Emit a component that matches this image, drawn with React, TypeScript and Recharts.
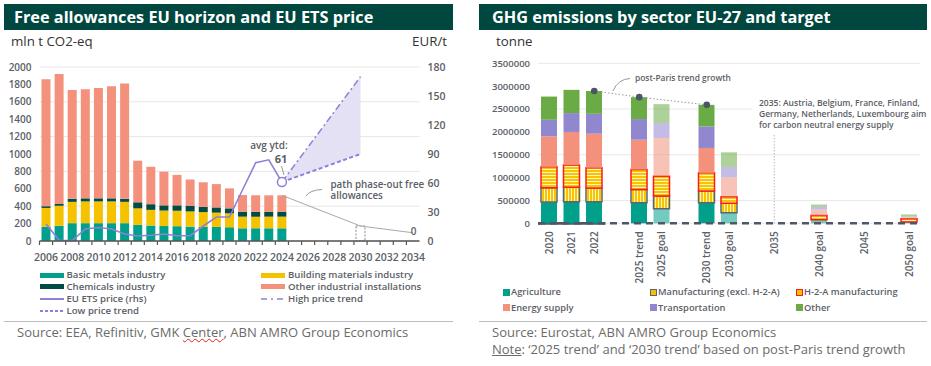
import React from 'react';
import {
  ComposedChart,
  Bar,
  Line,
  Area,
  XAxis,
  YAxis,
  CartesianGrid,
  ReferenceDot,
  ReferenceLine,
  ReferenceArea,
  Cell,
} from 'recharts';

const FONT = '"Open Sans", "Noto Sans", sans-serif';
const TICK = '#5b6066';
const BANNER = '#00473f';

// ---- left chart: free allowances (mln t CO2-eq) and ETS price (EUR/t)
const years = [
  '2006', '2007', '2008', '2009', '2010', '2011', '2012', '2013', '2014', '2015',
  '2016', '2017', '2018', '2019', '2020', '2021', '2022', '2023', '2024', '2025',
  '2026', '2027', '2028', '2029', '2030', '2031', '2032', '2033', '2034',
];
const basicMetals = [165, 175, 205, 205, 205, 205, 205, 185, 178, 172, 170, 165, 162, 162, 158, 146, 146, 146, 146];
const buildingMaterials = [215, 230, 245, 250, 250, 250, 245, 190, 180, 178, 178, 175, 170, 164, 160, 134, 134, 134, 134];
const chemicals = [20, 20, 35, 35, 35, 35, 35, 70, 65, 60, 62, 62, 60, 60, 57, 57, 57, 55, 55];
const otherInstallations = [1460, 1495, 1250, 1255, 1270, 1290, 1325, 478, 430, 387, 350, 305, 283, 268, 230, 192, 190, 190, 190];
const etsPrice = [17.6, 0.8, 0.4, 12.5, 14, 12.5, 7.2, 5.2, 6, 7.2, 5.5, 5.5, 15.5, 24.8, 24.8, 53, 81, 84, 61];

const trendYears = ['2024', '2030'];
const highTrend = [61, 170];
const lowTrend = [61, 90];

const phaseOutYears = ['2024', '2030', '2034'];
const phaseOut = [525, 172, 95];
const phaseBoxYear = '2030';
const phaseBoxValue = 172;

const leftTicks = [0, 200, 400, 600, 800, 1000, 1200, 1400, 1600, 1800, 2000];
const rightTicks = [0, 30, 60, 90, 120, 150, 180];

const leftData = years.map((year, i) => {
  const t = trendYears.indexOf(year);
  const p = phaseOutYears.indexOf(year);
  return {
    year,
    basic: basicMetals[i] ?? null,
    building: buildingMaterials[i] ?? null,
    chemicals: chemicals[i] ?? null,
    other: otherInstallations[i] ?? null,
    price: etsPrice[i] ?? null,
    high: t >= 0 ? highTrend[t] : null,
    low: t >= 0 ? lowTrend[t] : null,
    band: t >= 0 ? [lowTrend[t], highTrend[t]] : null,
    phase: p >= 0 ? phaseOut[p] : null,
    box: year === phaseBoxYear ? phaseBoxValue : null,
  };
});

// ---- right chart: GHG emissions by sector (tonne)
const periods = [
  '2020', '2021', '2022', '', '2025 trend', '2025 goal', '', '2030 trend', '2030 goal',
  '', '2035', '', '2040 goal', '', '2045', '', '2050 goal',
];
const agriculture = [464000, 470000, 470000, null, 450000, 320000, null, 450000, 233000, null, null, null, 80000, null, null, null, 30000];
const manufacturing = [313000, 320000, 300000, null, 290000, 275000, null, 254000, 203000, null, null, null, null, null, null, null, null];
const h2a = [458000, 488000, 445000, null, 436000, 435000, null, 400000, 145000, null, null, null, 90000, null, null, null, 70000];
const energySupply = [666000, 720000, 745000, null, 653000, 836000, null, 544000, 427000, null, null, null, 131000, null, null, null, 30000];
const transportation = [364000, 413000, 435000, null, 451000, 327000, null, 471000, 227000, null, null, null, 59000, null, null, null, 18000];
const otherSectors = [507000, 508000, 500000, null, 479000, 414000, null, 472000, 318000, null, null, null, 50000, null, null, null, 46000];
const trendPeriods = ['2022', '2025 trend', '2030 trend'];
const trendTotals = [2895000, 2759000, 2591000];
const ghgTicks = [0, 500000, 1000000, 1500000, 2000000, 2500000, 3000000, 3500000];

const ghgData = periods.map((label, i) => {
  const t = trendPeriods.indexOf(label);
  return {
    key: label || `gap${i}`,
    label,
    agriculture: agriculture[i],
    manufacturing: manufacturing[i],
    h2a: h2a[i],
    energy: energySupply[i],
    transport: transportation[i],
    other: otherSectors[i],
    trend: t >= 0 ? trendTotals[t] : null,
  };
});

const C = {
  teal: '#00a08c',
  yellow: '#f5c200',
  dark: '#004b44',
  salmon: '#f3917c',
  purple: '#8e80d8',
  lavender: '#e5e1f5',
  green: '#6aab45',
  transport: '#9187cf',
};

// chart frame sizes (px)
const L_H = 220;
const L_XH = 29;
const L_AXIS_Y = L_H - L_XH;
const R_H = 238;
const R_XH = 64.7;
const R_AXIS_Y = R_H - R_XH;

const YearTick = (props: any) => {
  const { x, payload } = props;
  const off = payload?.offset ?? 6.5;
  const show = Number(payload.value) % 2 === 0;
  return (
    <g>
      <line x1={x - off} x2={x - off} y1={L_AXIS_Y} y2={L_AXIS_Y + 4} stroke="#555" strokeWidth={1.2} />
      {show && (
        <text x={x} y={L_AXIS_Y + 20} textAnchor="middle" fill={TICK} fontSize={10.5} fontWeight={600} fontFamily={FONT}>
          {payload.value}
        </text>
      )}
    </g>
  );
};

const PeriodTick = (props: any) => {
  const { x, payload } = props;
  const y = R_AXIS_Y + 8;
  const text = String(payload.value).startsWith('gap') ? '' : payload.value;
  if (!text) return null;
  return (
    <text
      x={x}
      y={y}
      dy="0.35em"
      transform={`rotate(-90, ${x}, ${y})`}
      textAnchor="end"
      fill={TICK}
      fontSize={10}
      fontWeight={600}
      fontFamily={FONT}
    >
      {text}
    </text>
  );
};

const LineSwatch = ({ dash, width = 2 }: { dash?: string; width?: number }) => (
  <svg width={24} height={6} style={{ position: 'absolute', left: 0, top: -3 }}>
    <line x1={0} x2={24} y1={3} y2={3} stroke={C.purple} strokeWidth={width} strokeDasharray={dash} />
  </svg>
);

const legendText: React.CSSProperties = {
  position: 'absolute',
  fontSize: 9.6,
  fontWeight: 600,
  color: '#5b6066',
  whiteSpace: 'nowrap',
  lineHeight: '12px',
};

function LeftLegendItem({ x, y, label, swatch }: { x: number; y: number; label: string; swatch: React.ReactNode }) {
  return (
    <>
      <div style={{ position: 'absolute', left: x, top: y, width: 24 }}>{swatch}</div>
      <div style={{ ...legendText, left: x + 27, top: y - 6 }}>{label}</div>
    </>
  );
}

function RightLegendItem({ x, y, label, color, border }: { x: number; y: number; label: string; color: string; border?: string }) {
  return (
    <>
      <div
        style={{
          position: 'absolute',
          left: x,
          top: y - 3.5,
          width: border ? 5 : 7,
          height: border ? 5 : 7,
          background: color,
          border: border ? `1.5px solid ${border}` : undefined,
        }}
      />
      <div style={{ ...legendText, fontSize: 9.3, left: x + 8, top: y - 6 }}>{label}</div>
    </>
  );
}

const bar = (color: string, h = 5) => (
  <div style={{ position: 'absolute', left: 0, top: -h / 2, width: 24, height: h, background: color }} />
);

export default function App() {
  const isGoal = (label: string) => label.includes('goal');
  return (
    <div
      style={{
        position: 'absolute',
        left: 0,
        top: 0,
        width: 931,
        height: 366,
        background: '#fff',
        fontFamily: FONT,
        overflow: 'hidden',
      }}
    >
      {/* ---------- left panel ---------- */}
      <div
        style={{
          position: 'absolute', left: 4, top: 4, width: 449, height: 26, background: BANNER,
          color: '#fff', fontWeight: 700, fontSize: 16.3, lineHeight: '26px', paddingLeft: 10, boxSizing: 'border-box',
          whiteSpace: 'nowrap',
        }}
      >
        Free allowances EU horizon and EU ETS price
      </div>
      <div style={{ position: 'absolute', left: 11, top: 33, fontSize: 13.3, color: '#333', lineHeight: '17px' }}>mln t CO2-eq</div>
      <div style={{ position: 'absolute', left: 380, width: 67, top: 33, fontSize: 13.3, color: '#333', lineHeight: '17px', textAlign: 'right' }}>EUR/t</div>

      <div style={{ position: 'absolute', left: 0, top: 50 }}>
        <ComposedChart width={460} height={L_H} data={leftData} margin={{ top: 17, right: 0, left: 0, bottom: 0 }}>
          <CartesianGrid yAxisId="left" vertical={false} stroke="#e6e6e6" />
          <XAxis
            dataKey="year"
            interval={0}
            tickSize={0}
            tickMargin={0}
            tickLine={false}
            height={L_XH}
            axisLine={{ stroke: '#555', strokeWidth: 1.5 }}
            tick={(p: any) => <YearTick {...p} />}
          />
          <YAxis
            yAxisId="left"
            width={39.5}
            domain={[0, 2000]}
            ticks={leftTicks}
            axisLine={false}
            tickLine={false}
            tick={{ fill: TICK, fontSize: 10, fontWeight: 600, fontFamily: FONT }}
          />
          <YAxis
            yAxisId="right"
            orientation="right"
            width={40.5}
            domain={[0, 180]}
            ticks={rightTicks}
            axisLine={false}
            tickLine={false}
            tick={{ fill: TICK, fontSize: 10.5, fontWeight: 600, fontFamily: FONT }}
          />
          <Bar yAxisId="left" dataKey="basic" stackId="a" fill={C.teal} barSize={9} isAnimationActive={false} />
          <Bar yAxisId="left" dataKey="building" stackId="a" fill={C.yellow} barSize={9} isAnimationActive={false} />
          <Bar yAxisId="left" dataKey="chemicals" stackId="a" fill={C.dark} barSize={9} isAnimationActive={false} />
          <Bar yAxisId="left" dataKey="other" stackId="a" fill={C.salmon} barSize={9} isAnimationActive={false} />
          <Bar
            yAxisId="left"
            dataKey="box"
            stackId="a"
            fill="none"
            stroke="#888"
            strokeDasharray="2 1.5"
            barSize={9}
            isAnimationActive={false}
          />
          <Area
            yAxisId="right"
            dataKey="band"
            type="linear"
            fill={C.lavender}
            fillOpacity={1}
            stroke="none"
            connectNulls
            isAnimationActive={false}
          />
          <Line
            yAxisId="left"
            dataKey="phase"
            type="linear"
            stroke="#a9a9a9"
            strokeWidth={1}
            dot={false}
            connectNulls
            isAnimationActive={false}
          />
          <Line
            yAxisId="right"
            dataKey="high"
            type="linear"
            stroke={C.purple}
            strokeWidth={1.5}
            strokeDasharray="7 3 2 3"
            dot={false}
            connectNulls
            isAnimationActive={false}
          />
          <Line
            yAxisId="right"
            dataKey="low"
            type="linear"
            stroke={C.purple}
            strokeWidth={2}
            strokeDasharray="4 2.5"
            dot={false}
            connectNulls
            isAnimationActive={false}
          />
          <Line
            yAxisId="right"
            dataKey="price"
            type="linear"
            stroke={C.purple}
            strokeWidth={1.6}
            dot={false}
            isAnimationActive={false}
          />
          <ReferenceDot
            yAxisId="right"
            x={years[etsPrice.length - 1]}
            y={etsPrice[etsPrice.length - 1]}
            r={4.5}
            fill="#fff"
            stroke={C.purple}
            strokeWidth={1.5}
          />
        </ComposedChart>
      </div>

      <svg width={460} height={366} style={{ position: 'absolute', left: 0, top: 0, pointerEvents: 'none' }}>
        <path d="M281.5,166 L284,175" stroke="#999" strokeWidth={1} fill="none" />
        <path d="M306,196 Q310,190 322,189.5" stroke="#999" strokeWidth={1} fill="none" />
        <text x={269} y={148.5} textAnchor="middle" fill="#5b6066" fontSize={10} fontWeight={600} fontFamily={FONT}>avg ytd:</text>
        <text x={281} y={162.5} textAnchor="middle" fill="#5b6066" fontSize={11} fontWeight={700} fontFamily={FONT}>61</text>
        <text x={330.5} y={187.5} fill="#5b6066" fontSize={9.8} fontWeight={600} fontFamily={FONT}>path phase-out free</text>
        <text x={330.5} y={199} fill="#5b6066" fontSize={9.8} fontWeight={600} fontFamily={FONT}>allowances</text>
        <text x={413.5} y={235} textAnchor="middle" fill="#5b6066" fontSize={10} fontWeight={600} fontFamily={FONT}>0</text>
      </svg>

      <LeftLegendItem x={39.5} y={275} label="Basic metals industry" swatch={bar(C.teal)} />
      <LeftLegendItem x={261} y={275} label="Building materials industry" swatch={bar(C.yellow)} />
      <LeftLegendItem x={39.5} y={286.8} label="Chemicals industry" swatch={bar(C.dark)} />
      <LeftLegendItem x={261} y={286.8} label="Other industrial installations" swatch={bar(C.salmon)} />
      <LeftLegendItem x={39.5} y={299} label="EU ETS price (rhs)" swatch={<LineSwatch />} />
      <LeftLegendItem x={261} y={299} label="High price trend" swatch={<LineSwatch dash="6 4 2 4" width={1.5} />} />
      <LeftLegendItem x={39.5} y={311} label="Low price trend" swatch={<LineSwatch dash="3 2" />} />

      <div style={{ position: 'absolute', left: 4, top: 321, width: 449, height: 1, background: '#bdbdbd' }} />
      <div style={{ position: 'absolute', left: 17, top: 324, fontSize: 13, color: '#6b6b6b', lineHeight: '17px', whiteSpace: 'nowrap' }}>
        Source: EEA, Refinitiv, GMK{' '}
        <span style={{ textDecoration: 'underline wavy #e02020', textDecorationThickness: 1 }}>Center</span>, ABN AMRO Group Economics
      </div>

      {/* ---------- right panel ---------- */}
      <div
        style={{
          position: 'absolute', left: 479, top: 4, width: 448, height: 26, background: BANNER,
          color: '#fff', fontWeight: 700, fontSize: 16.3, lineHeight: '26px', paddingLeft: 13, boxSizing: 'border-box',
          whiteSpace: 'nowrap',
        }}
      >
        GHG emissions by sector EU-27 and target
      </div>
      <div style={{ position: 'absolute', left: 496, top: 33, fontSize: 13.3, color: '#333', lineHeight: '17px' }}>tonne</div>

      <div style={{ position: 'absolute', left: 470, top: 50 }}>
        <ComposedChart width={461} height={R_H} data={ghgData} margin={{ top: 13.3, right: 10.5, left: 0, bottom: 0 }}>
          <defs>
            <pattern id="hStripe" width={4} height={3} patternUnits="userSpaceOnUse">
              <rect width={4} height={3} fill="#f6c400" />
              <rect y={2} width={4} height={1} fill="#fff4c0" />
            </pattern>
            <pattern id="vStripe" width={3} height={4} patternUnits="userSpaceOnUse">
              <rect width={3} height={4} fill="#f6c400" />
              <rect x={2} width={1} height={4} fill="#fff4c0" />
            </pattern>
          </defs>
          <CartesianGrid vertical={false} stroke="#e8e8e8" />
          <XAxis
            dataKey="key"
            interval={0}
            tickSize={0}
            tickMargin={7}
            tickLine={false}
            height={R_XH}
            axisLine={{ stroke: '#4d5766', strokeWidth: 2.5, strokeDasharray: '7 5' }}
            tick={(p: any) => <PeriodTick {...p} />}
          />
          <YAxis
            width={68}
            domain={[0, 3500000]}
            ticks={ghgTicks}
            axisLine={false}
            tickLine={false}
            tick={{ fill: TICK, fontSize: 9.5, fontWeight: 600, fontFamily: FONT }}
          />
          <ReferenceArea x1="2020" x2="2022" y1={-30000} y2={30000} fill="#4d5766" fillOpacity={1} stroke="none" ifOverflow="visible" />
          <ReferenceLine
            segment={[{ x: '2035', y: 0 }, { x: '2035', y: 1980000 }]}
            stroke="#9a9a9a"
            strokeDasharray="1 2"
          />
          <Bar dataKey="agriculture" stackId="g" fill={C.teal} barSize={16} isAnimationActive={false}>
            {ghgData.map((d, i) => (
              <Cell key={i} fillOpacity={isGoal(d.label) ? 0.55 : 1} />
            ))}
          </Bar>
          <Bar dataKey="manufacturing" stackId="g" fill="url(#vStripe)" stroke="#5c6670" strokeWidth={1.5} barSize={16} isAnimationActive={false} />
          <Bar dataKey="h2a" stackId="g" fill="url(#hStripe)" stroke="#ff1a1a" strokeWidth={1.5} barSize={16} isAnimationActive={false} />
          <Bar dataKey="energy" stackId="g" fill={C.salmon} barSize={16} isAnimationActive={false}>
            {ghgData.map((d, i) => (
              <Cell key={i} fillOpacity={isGoal(d.label) ? 0.55 : 1} />
            ))}
          </Bar>
          <Bar dataKey="transport" stackId="g" fill={C.transport} barSize={16} isAnimationActive={false}>
            {ghgData.map((d, i) => (
              <Cell key={i} fillOpacity={isGoal(d.label) ? 0.55 : 1} />
            ))}
          </Bar>
          <Bar dataKey="other" stackId="g" fill={C.green} barSize={16} isAnimationActive={false}>
            {ghgData.map((d, i) => (
              <Cell key={i} fillOpacity={isGoal(d.label) ? 0.55 : 1} />
            ))}
          </Bar>
          <Line
            dataKey="trend"
            type="linear"
            stroke="#999"
            strokeWidth={1}
            strokeDasharray="1.5 2"
            connectNulls
            dot={{ r: 3.3, fill: '#4a5566', stroke: '#4a5566', strokeWidth: 0 }}
            isAnimationActive={false}
          />
        </ComposedChart>
      </div>

      <div
        style={{
          position: 'absolute', left: 752, top: 96, width: 176, height: 38, background: '#fff',
          fontSize: 8.5, fontWeight: 600, color: '#5b6066', lineHeight: '10.8px', paddingLeft: 7, boxSizing: 'border-box', paddingTop: 2,
          whiteSpace: 'nowrap',
        }}
      >
        2035: Austria, Belgium, France, Finland,
        <br />
        Germany, Netherlands, Luxembourg aim
        <br />
        for carbon neutral energy supply
      </div>
      <svg width={931} height={366} style={{ position: 'absolute', left: 0, top: 0, pointerEvents: 'none' }}>
        <path d="M613,91 Q618,79 630,78.5" stroke="#999" strokeWidth={1} fill="none" />
        <text x={635} y={81} fill="#5b6066" fontSize={8.4} fontWeight={600} fontFamily={FONT}>post-Paris trend growth</text>
      </svg>

      <RightLegendItem x={503} y={292.3} label="Agriculture" color={C.teal} />
      <RightLegendItem x={650} y={292.3} label="Manufacturing (excl. H-2-A)" color={C.yellow} border="#5c6670" />
      <RightLegendItem x={796} y={292.3} label="H-2-A manufacturing" color={C.yellow} border="#ff1a1a" />
      <RightLegendItem x={503} y={307.7} label="Energy supply" color={C.salmon} />
      <RightLegendItem x={650} y={307.7} label="Transportation" color={C.transport} />
      <RightLegendItem x={796} y={307.7} label="Other" color={C.green} />

      <div style={{ position: 'absolute', left: 479, top: 321, width: 448, height: 1, background: '#bdbdbd' }} />
      <div style={{ position: 'absolute', left: 492, top: 324, fontSize: 13, color: '#6b6b6b', lineHeight: '17px', whiteSpace: 'nowrap' }}>
        Source: Eurostat, ABN AMRO Group Economics
      </div>
      <div style={{ position: 'absolute', left: 492, top: 341, fontSize: 13, color: '#6b6b6b', lineHeight: '17px', whiteSpace: 'nowrap' }}>
        <span style={{ textDecoration: 'underline' }}>Note</span>: ‘2025 trend’ and ‘2030 trend’ based on post-Paris trend growth
      </div>
    </div>
  );
}
